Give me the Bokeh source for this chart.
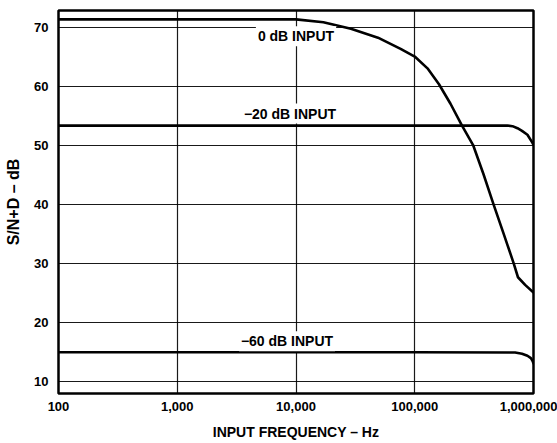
from bokeh.plotting import figure
from bokeh.models import FixedTicker, NumeralTickFormatter, Label, Range1d
from bokeh.embed import file_html
from bokeh.resources import INLINE

# ---- data ----
freq_0db = [100, 1000, 10000, 17000, 29000, 49000, 76000, 100000, 128000, 160000,
            200000, 250000, 310000, 380000, 460000, 560000, 680000, 740000, 850000, 1000000]
snd_0db = [71.3, 71.3, 71.3, 70.8, 69.7, 68.2, 66.3, 65.0, 63.0, 60.3,
           57.0, 53.3, 50.0, 45.0, 40.0, 35.0, 30.0, 27.6, 26.3, 25.0]

freq_20db = [100, 1000, 10000, 100000, 600000, 665000, 733000, 800000, 889000, 978000, 1000000]
snd_20db = [53.3, 53.3, 53.3, 53.3, 53.3, 53.2, 52.85, 52.4, 51.75, 50.4, 50.0]

freq_60db = [100, 1000, 10000, 100000, 700000, 800000, 889000, 950000, 978000, 1000000]
snd_60db = [14.9, 14.9, 14.9, 14.9, 14.85, 14.65, 14.3, 13.9, 13.5, 13.0]

x_ticks = [100, 1000, 10000, 100000, 1000000]
y_ticks = [10, 20, 30, 40, 50, 60, 70]

series_labels = ["0 dB INPUT", "\u221220 dB INPUT", "\u221260 dB INPUT"]

FONT = "Liberation Sans"

p = figure(width=557, height=443, x_axis_type="log",
           x_range=Range1d(100, 1000000), y_range=Range1d(7.9, 72.8),
           output_backend="svg", toolbar_location=None,
           min_border_left=58, min_border_right=24, min_border_top=10, min_border_bottom=50,
           background_fill_color="white", border_fill_color="white")

p.outline_line_color = "black"
p.outline_line_width = 2.5

for ax in (p.xaxis[0], p.yaxis[0]):
    ax.axis_line_color = None
    ax.major_tick_line_color = None
    ax.minor_tick_line_color = None
    ax.major_tick_out = 0
    ax.major_tick_in = 0
    ax.minor_tick_out = 0
    ax.minor_tick_in = 0
    ax.major_label_text_font = FONT
    ax.major_label_text_font_style = "bold"
    ax.major_label_text_font_size = "13px"
    ax.major_label_text_color = "black"
    ax.axis_label_text_font = FONT
    ax.axis_label_text_font_style = "bold"
    ax.axis_label_text_color = "black"

p.xaxis.ticker = FixedTicker(ticks=x_ticks)
p.xaxis.formatter = NumeralTickFormatter(format="0,0")
p.xaxis.major_label_standoff = 8
p.xaxis.axis_label = "INPUT FREQUENCY \u2013 Hz"
p.xaxis.axis_label_text_font_size = "14px"
p.xaxis.axis_label_standoff = 10

p.yaxis.ticker = FixedTicker(ticks=y_ticks)
p.yaxis.major_label_standoff = 10
p.yaxis.axis_label = "S/N+D \u2013 dB"
p.yaxis.axis_label_text_font_size = "16px"
p.yaxis.axis_label_standoff = 9

for g in (p.xgrid[0], p.ygrid[0]):
    g.grid_line_color = "black"
    g.grid_line_width = 1.2
    g.grid_line_alpha = 0.9

for fx, fy in ((freq_0db, snd_0db), (freq_20db, snd_20db), (freq_60db, snd_60db)):
    p.line(fx, fy, line_color="black", line_width=2.6, line_join="round", line_cap="round")

label_specs = [
    (series_labels[0], snd_0db[2], 0, -17),
    (series_labels[1], snd_20db[2], -6, 12),
    (series_labels[2], snd_60db[2], -9, 11),
]
for txt, yv, xo, yo in label_specs:
    p.add_layout(Label(x=x_ticks[2], y=yv, x_offset=xo, y_offset=yo, text=txt,
                       text_align="center", text_baseline="middle",
                       text_font=FONT, text_font_style="bold", text_font_size="14px",
                       text_color="black", background_fill_color="white",
                       padding=2))

open("out.html", "w").write(file_html(p, INLINE))
